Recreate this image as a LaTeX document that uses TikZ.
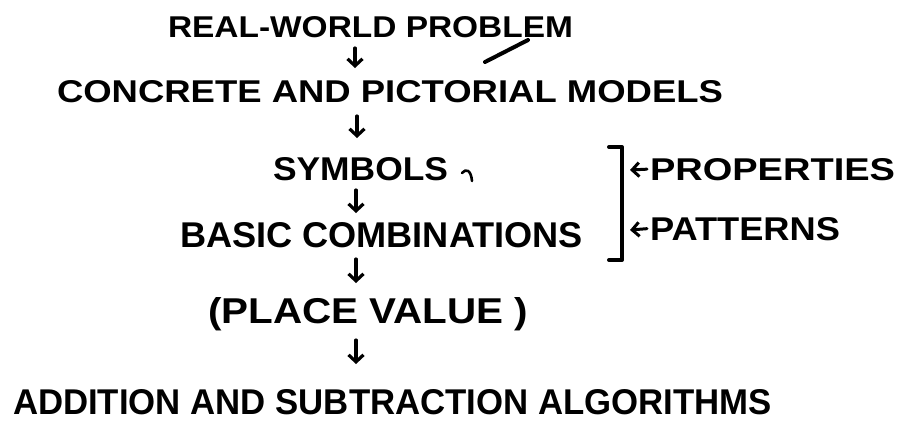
\documentclass[tikz,border=0pt]{standalone}
\usepackage{fontspec}
\setmainfont{Liberation Sans}
\usepackage{graphicx}
\usetikzlibrary{arrows.meta}
\tikzset{
  lbl/.style={inner sep=0pt, outer sep=0pt, anchor=base west, font=\bfseries},
  darrow/.style={line width=1.6pt, line cap=round, line join=round,
    -{Straight Barb[length=3.5pt,width=7.5pt,line width=1.6pt]}},
  harrow/.style={line width=1.5pt, line cap=round,
    -{Straight Barb[length=3.5pt,width=7pt,line width=1.5pt]}},
  pen/.style={line width=2pt, line cap=round, line join=round}
}
\begin{document}
\begin{tikzpicture}[x=0.5pt,y=-0.5pt]
\useasboundingbox[fill=white] (0,0) rectangle (905,420);

\node[lbl] (real) at (168,37) {\resizebox{202.5pt}{10.5pt}{REAL-WORLD PROBLEM}};
\node[lbl] (concrete) at (57,102) {\resizebox{333pt}{11pt}{CONCRETE AND PICTORIAL MODELS}};
\node[lbl] (symbols) at (273,180) {\resizebox{87.5pt}{11.5pt}{SYMBOLS}};
\node[lbl] (basic) at (180,247) {\resizebox{201.5pt}{12.5pt}{BASIC COMBINATIONS}};
\node[lbl] (place) at (208,323) {\resizebox{160pt}{13pt}{(PLACE VALUE )}};
\node[lbl] (addition) at (13,414) {\resizebox{379.5pt}{12.5pt}{ADDITION AND SUBTRACTION ALGORITHMS}};
\node[lbl] (props) at (650,180) {\resizebox{122.5pt}{11pt}{PROPERTIES}};
\node[lbl] (patterns) at (650,240) {\resizebox{95pt}{11.5pt}{PATTERNS}};

% vertical arrows
\coordinate (a1s) at (355,48);  \coordinate (a1e) at (355,68);
\coordinate (a2s) at (357,116); \coordinate (a2e) at (357,138);
\coordinate (a3s) at (356,190); \coordinate (a3e) at (356,213);
\coordinate (a4s) at (356,259); \coordinate (a4e) at (356,283);
\coordinate (a5s) at (356,340); \coordinate (a5e) at (356,364);
\draw[darrow] (a1s) -- (a1e);
\draw[darrow] (a2s) -- (a2e);
\draw[darrow] (a3s) -- (a3e);
\draw[darrow] (a4s) -- (a4e);
\draw[darrow] (a5s) -- (a5e);

% bracket
\coordinate (bt) at (609,147); \coordinate (bb) at (609,260);
\draw[pen] (bt) -- (622,147) -- (622,260) -- (bb);

% small left arrows
\coordinate (pa1) at (630,170);
\coordinate (pa2) at (630,230);
\draw[harrow] ([xshift=-1.5pt]props.west) -- (pa1);
\draw[harrow] ([xshift=-1.5pt]patterns.west) -- (pa2);

% stray pen marks
\draw[pen] (485,62) -- (528,40);
\draw[pen, line width=1.3pt] (462,173) .. controls (466,168) and (471,170) .. (472,181);
\end{tikzpicture}
\end{document}
